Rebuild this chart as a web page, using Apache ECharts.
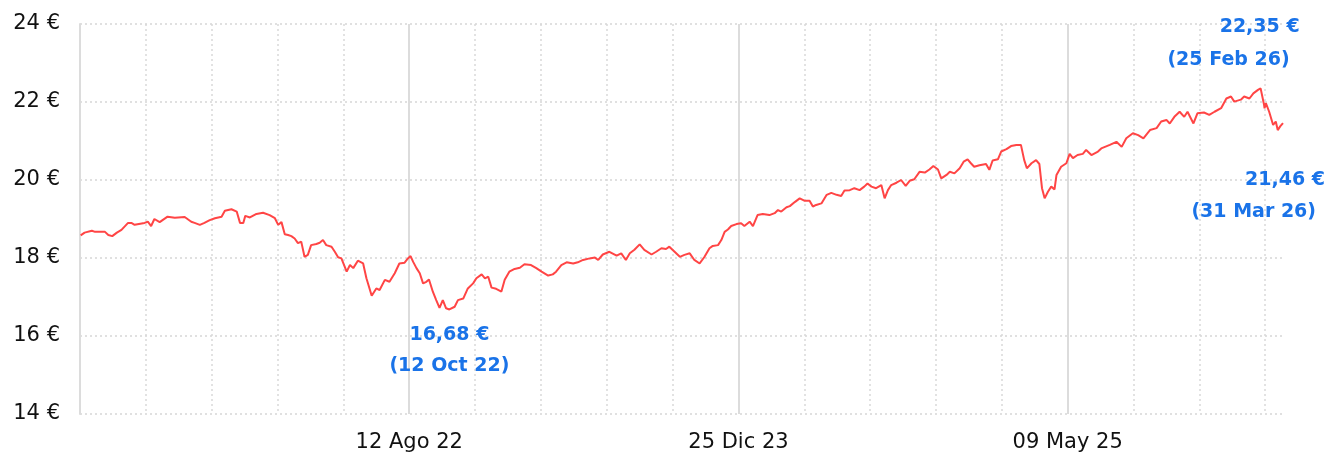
<!DOCTYPE html>
<html>
<head>
<meta charset="utf-8">
<script src="https://cdn.jsdelivr.net/npm/echarts@6/dist/echarts.min.js"></script>
<style>
html, body { margin: 0; padding: 0; background: #fff; }
#chart { width: 1327px; height: 456px; }
</style>
</head>
<body>
<div id="chart"></div>
<script>
// axis range (the x axis counts days from startDate)
const startDate = '2021-03-30'
const endDate = '2026-03-31'

const dates = [
  '2021-03-31','2021-04-06','2021-04-17','2021-04-22','2021-05-07','2021-05-12','2021-05-18','2021-05-25',
  '2021-06-01','2021-06-11','2021-06-16','2021-06-21','2021-07-06','2021-07-11','2021-07-16','2021-07-21',
  '2021-07-29','2021-08-10','2021-08-21','2021-09-05','2021-09-15','2021-09-20','2021-09-28','2021-10-05',
  '2021-10-13','2021-10-21','2021-10-31','2021-11-05','2021-11-15','2021-11-23','2021-11-28','2021-12-03',
  '2021-12-06','2021-12-13','2021-12-23','2022-01-02','2022-01-12','2022-01-20','2022-01-25','2022-01-30',
  '2022-02-04','2022-02-09','2022-02-14','2022-02-19','2022-02-24','2022-03-01','2022-03-06','2022-03-11',
  '2022-03-16','2022-03-24','2022-03-29','2022-04-03','2022-04-08','2022-04-16','2022-04-21','2022-04-26',
  '2022-05-01','2022-05-09','2022-05-14','2022-05-19','2022-05-26','2022-06-03','2022-06-08','2022-06-16',
  '2022-06-23','2022-06-28','2022-07-06','2022-07-13','2022-07-21','2022-07-28','2022-08-05','2022-08-10',
  '2022-08-14','2022-08-18','2022-08-23','2022-08-28','2022-09-02','2022-09-07','2022-09-11','2022-09-17',
  '2022-09-22','2022-09-27','2022-10-02','2022-10-07','2022-10-12','2022-10-20','2022-10-25','2022-11-02',
  '2022-11-09','2022-11-17','2022-11-22','2022-11-30','2022-12-05','2022-12-10','2022-12-15','2022-12-22',
  '2022-12-30','2023-01-04','2023-01-11','2023-01-19','2023-01-27','2023-02-03','2023-02-13','2023-02-21',
  '2023-03-01','2023-03-11','2023-03-18','2023-03-23','2023-03-31','2023-04-08','2023-04-18','2023-04-25',
  '2023-05-03','2023-05-13','2023-05-21','2023-05-26','2023-06-02','2023-06-12','2023-06-23','2023-06-30',
  '2023-07-07','2023-07-13','2023-07-20','2023-07-28','2023-08-04','2023-08-15','2023-08-22','2023-08-30',
  '2023-09-06','2023-09-11','2023-09-19','2023-09-27','2023-10-04','2023-10-12','2023-10-19','2023-10-27',
  '2023-11-03','2023-11-11','2023-11-16','2023-11-24','2023-11-29','2023-12-04','2023-12-09','2023-12-14',
  '2023-12-22','2023-12-29','2024-01-03','2024-01-11','2024-01-16','2024-01-23','2024-01-31','2024-02-10',
  '2024-02-18','2024-02-23','2024-02-28','2024-03-07','2024-03-12','2024-03-20','2024-03-27','2024-04-03',
  '2024-04-11','2024-04-16','2024-04-21','2024-04-29','2024-05-07','2024-05-14','2024-05-22','2024-05-29',
  '2024-06-03','2024-06-11','2024-06-18','2024-06-26','2024-07-03','2024-07-08','2024-07-14','2024-07-21',
  '2024-07-29','2024-08-03','2024-08-08','2024-08-13','2024-08-21','2024-08-28','2024-09-04','2024-09-10',
  '2024-09-17','2024-09-25','2024-10-03','2024-10-10','2024-10-16','2024-10-23','2024-10-28','2024-11-05',
  '2024-11-10','2024-11-17','2024-11-25','2024-12-01','2024-12-07','2024-12-12','2024-12-17','2024-12-25',
  '2025-01-04','2025-01-09','2025-01-14','2025-01-22','2025-01-27','2025-02-04','2025-02-11','2025-02-19',
  '2025-02-26','2025-03-03','2025-03-07','2025-03-14','2025-03-21','2025-03-26','2025-03-30','2025-04-03',
  '2025-04-08','2025-04-13','2025-04-18','2025-04-21','2025-04-28','2025-05-06','2025-05-11','2025-05-16',
  '2025-05-23','2025-05-31','2025-06-05','2025-06-13','2025-06-23','2025-06-28','2025-07-11','2025-07-21',
  '2025-07-29','2025-08-05','2025-08-15','2025-08-23','2025-08-31','2025-09-10','2025-09-20','2025-09-27',
  '2025-10-05','2025-10-10','2025-10-17','2025-10-25','2025-11-01','2025-11-06','2025-11-15','2025-11-21',
  '2025-12-01','2025-12-09','2025-12-17','2025-12-27','2026-01-04','2026-01-11','2026-01-16','2026-01-26',
  '2026-01-31','2026-02-08','2026-02-14','2026-02-21','2026-02-25','2026-03-02','2026-03-03','2026-03-05',
  '2026-03-10','2026-03-13','2026-03-16','2026-03-20','2026-03-23','2026-03-27','2026-03-31'
]

const prices = [
  18.58,18.65,18.70,18.67,18.67,18.59,18.56,18.65,
  18.72,18.90,18.90,18.85,18.90,18.93,18.82,19.00,
  18.92,19.06,19.03,19.05,18.93,18.90,18.85,18.90,
  18.97,19.02,19.06,19.21,19.25,19.19,18.90,18.90,
  19.08,19.04,19.13,19.16,19.10,19.02,18.85,18.92,
  18.61,18.59,18.56,18.50,18.38,18.42,18.03,18.08,
  18.33,18.36,18.39,18.46,18.33,18.29,18.16,18.02,
  17.99,17.65,17.82,17.74,17.93,17.86,17.48,17.03,
  17.22,17.18,17.44,17.39,17.61,17.86,17.88,17.99,
  18.05,17.90,17.74,17.61,17.35,17.39,17.45,17.13,
  16.92,16.72,16.92,16.71,16.68,16.75,16.92,16.96,
  17.22,17.35,17.48,17.58,17.48,17.52,17.24,17.21,
  17.14,17.44,17.65,17.72,17.75,17.84,17.82,17.74,
  17.65,17.55,17.58,17.65,17.82,17.89,17.86,17.89,
  17.95,17.99,18.01,17.95,18.09,18.16,18.06,18.12,
  17.95,18.12,18.21,18.35,18.21,18.09,18.16,18.25,
  18.23,18.29,18.16,18.03,18.08,18.12,17.95,17.86,
  18.02,18.25,18.31,18.33,18.46,18.67,18.73,18.82,
  18.87,18.89,18.82,18.93,18.82,19.10,19.13,19.10,
  19.15,19.23,19.19,19.30,19.33,19.44,19.53,19.47,
  19.47,19.32,19.36,19.40,19.62,19.67,19.62,19.59,
  19.73,19.74,19.79,19.74,19.83,19.91,19.83,19.79,
  19.87,19.53,19.74,19.87,19.93,20.00,19.85,19.98,
  20.02,20.21,20.19,20.27,20.36,20.27,20.04,20.13,
  20.21,20.17,20.30,20.47,20.53,20.43,20.34,20.38,
  20.41,20.26,20.50,20.53,20.73,20.79,20.87,20.90,
  20.90,20.51,20.30,20.43,20.51,20.41,19.79,19.53,
  19.70,19.83,19.76,20.13,20.34,20.43,20.67,20.56,
  20.64,20.67,20.77,20.64,20.73,20.81,20.90,20.98,
  20.85,21.07,21.20,21.15,21.07,21.28,21.33,21.50,
  21.54,21.45,21.62,21.75,21.62,21.75,21.45,21.71,
  21.73,21.67,21.75,21.84,22.09,22.14,22.01,22.06,
  22.14,22.09,22.22,22.31,22.35,21.95,21.84,21.97,
  21.75,21.79,21.41,21.50,21.28,21.38,21.46
]

// bottom labels sit on every 500th day
const xLabels = ['12 Ago 22', '25 Dic 23', '09 May 25']

// annotations: lowest, highest, last
const noteDates = ['2022-10-12', '2026-02-25', '2026-03-31']
const noteValues = [16.68, 22.35, 21.46]
const noteTexts = [
  ['16,68 €', '(12 Oct 22)'],
  ['22,35 €', '(25 Feb 26)'],
  ['21,46 €', '(31 Mar 26)']
]

const DAY = 86400000
const t0 = Date.parse(startDate)
const dayOf = d => Math.round((Date.parse(d) - t0) / DAY)

const lineData = dates.map((d, i) => [dayOf(d), prices[i]])

const noteStyles = [
  { offset: [0, 41], align: 'center', lineHeight: 31, pad: 0 },
  { offset: [39, -45], align: 'right', lineHeight: 33, pad: 10 },
  { offset: [42, 73], align: 'right', lineHeight: 32, pad: 9 }
]

const notes = noteDates.map((d, i) => {
  const s = noteStyles[i]
  return {
    coord: [dayOf(d), noteValues[i]],
    symbolSize: 0,
    label: {
      show: true,
      position: 'inside',
      offset: s.offset,
      align: s.align,
      verticalAlign: 'middle',
      formatter: '{a|' + noteTexts[i][0] + '}\n{b|' + noteTexts[i][1] + '}',
      rich: {
        a: { fontSize: 19, fontWeight: 'bold', color: '#1a73e8', lineHeight: s.lineHeight, fontFamily: 'DejaVu Sans', align: s.align },
        b: { fontSize: 19, fontWeight: 'bold', color: '#1a73e8', lineHeight: s.lineHeight, fontFamily: 'DejaVu Sans', align: s.align, padding: [0, s.pad, 0, 0] }
      }
    }
  }
})

const xMax = dayOf(endDate)

const chart = echarts.init(document.getElementById('chart'))
chart.setOption({
  animation: false,
  grid: { left: 80, right: 44, top: 24, bottom: 42 },
  xAxis: [
    {
      type: 'value', min: 0, max: xMax, interval: 100, position: 'top',
      axisLine: { show: false }, axisTick: { show: false }, axisLabel: { show: false },
      splitLine: { show: true, showMinLine: false, showMaxLine: false, lineStyle: { color: '#d9d9d9', type: [2, 3], width: 1.5 } }
    },
    {
      type: 'value', min: 0, max: xMax, interval: 500, position: 'bottom',
      axisLine: { show: false }, axisTick: { show: false },
      axisLabel: {
        show: true, showMinLabel: false, showMaxLabel: false, margin: 18,
        fontSize: 21, color: '#111', fontFamily: 'DejaVu Sans',
        formatter: v => xLabels[v / 500 - 1] || ''
      },
      splitLine: { show: true, showMinLine: false, showMaxLine: false, lineStyle: { color: '#dcdcdc', type: 'solid', width: 2 } }
    }
  ],
  yAxis: {
    type: 'value', min: 14, max: 24, interval: 2,
    axisLine: { show: true, lineStyle: { color: '#dcdcdc', width: 2 } },
    axisTick: { show: false },
    axisLabel: { margin: 20, fontSize: 21, color: '#111', fontFamily: 'DejaVu Sans', formatter: v => v + ' €' },
    splitLine: { show: true, lineStyle: { color: '#d6d6d6', type: [2, 3], width: 1.5 } }
  },
  series: [{
    type: 'line',
    xAxisIndex: 0,
    data: lineData,
    showSymbol: false,
    lineStyle: { color: '#ff4545', width: 2 },
    markPoint: { symbol: 'circle', data: notes }
  }]
})
</script>
</body>
</html>
